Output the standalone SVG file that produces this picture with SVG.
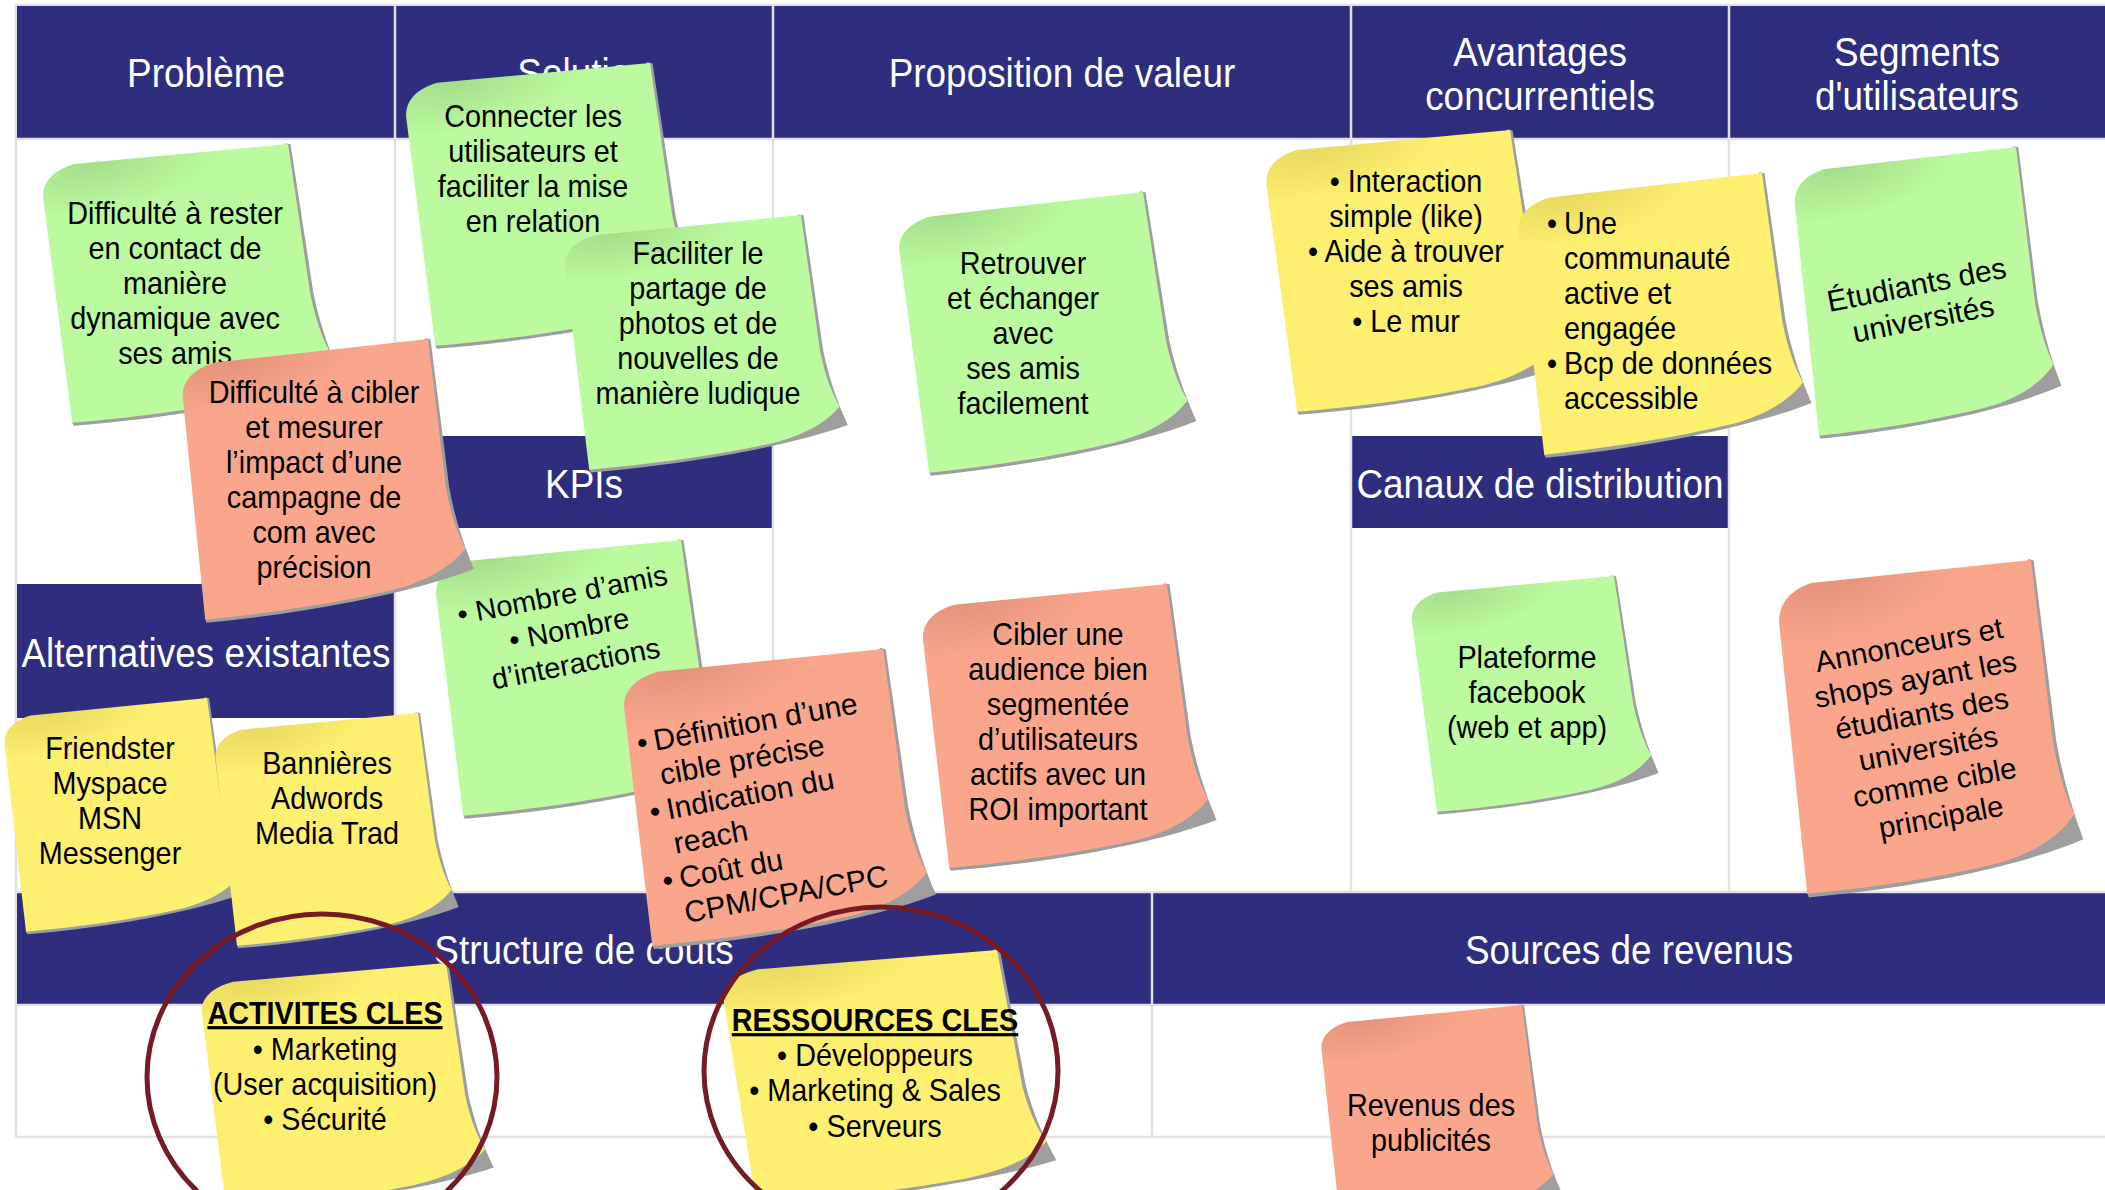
<svg xmlns="http://www.w3.org/2000/svg" width="2105" height="1190" viewBox="0 0 2105 1190">
<defs>
<style>
.band{fill:#2f2d7d}
.ln{stroke:#e1e1e1;stroke-width:2.5;fill:none}
.hd{fill:#ffffff;font-family:"Liberation Sans",Arial,sans-serif;font-size:41px;text-anchor:middle}
.nt{fill:#000000;font-family:"Liberation Sans",Arial,sans-serif;font-size:32px;text-anchor:middle}
.nb{font-weight:bold;text-decoration:underline}
.rt{fill:#000000;font-family:"Liberation Sans",Arial,sans-serif;font-size:30px;text-anchor:middle}
.rl{fill:#000000;font-family:"Liberation Sans",Arial,sans-serif;font-size:30px;text-anchor:start}
.g{fill:url(#gG)}
.s{fill:url(#gS)}
.y{fill:url(#gY)}
.sh{fill:#9e9e9e}
.ring{fill:none;stroke:#761a25;stroke-width:5}
</style>
<radialGradient id="gG" cx="0.2" cy="0" r="0.5" gradientUnits="objectBoundingBox" gradientTransform="translate(0.2,0) scale(1,0.4) translate(-0.2,0)">
<stop offset="0" stop-color="#a3dd8a"/><stop offset="1" stop-color="#bbfa9e"/>
</radialGradient>
<radialGradient id="gS" cx="0.2" cy="0" r="0.5" gradientUnits="objectBoundingBox" gradientTransform="translate(0.2,0) scale(1,0.4) translate(-0.2,0)">
<stop offset="0" stop-color="#e4937b"/><stop offset="1" stop-color="#f9a68c"/>
</radialGradient>
<radialGradient id="gY" cx="0.2" cy="0" r="0.5" gradientUnits="objectBoundingBox" gradientTransform="translate(0.2,0) scale(1,0.4) translate(-0.2,0)">
<stop offset="0" stop-color="#e8d960"/><stop offset="1" stop-color="#fdef6f"/>
</radialGradient>
<path id="shd" d="M99,-0.5 L101,0.3 L102.8,62 C103.8,74 106,85 109.5,97 C96,100 80,101.6 60,102.4 C40,103 20,102.6 1,101.3 L0.5,100 Z"/>
<path id="note" d="M0,8 C0,2 4,-3 14,-4.5 L100,0 L101.5,62 C102.5,74 104.5,82 107,88 C101,94.5 90,99 76,100.3 C52,102 26,101.5 0.5,100 Z"/>
</defs>

<g id="canvas">
<rect x="0" y="0" width="2105" height="1190" fill="#ffffff"/>
<rect x="16" y="5" width="2095" height="1132" fill="#ffffff" class="ln"/>
<rect class="band" x="17" y="6" width="2088" height="132"/>
<rect class="band" x="396" y="436" width="377" height="92"/>
<rect class="band" x="1352" y="436" width="377" height="92"/>
<rect class="band" x="17" y="584" width="378" height="134"/>
<rect class="band" x="17" y="893" width="2088" height="111"/>
<path class="ln" d="M395,6 V893 M773,6 V893 M1351,6 V893 M1729,6 V893 M1152,893 V1137 M17,139 H2105 M17,1005 H2105 M17,892 H2105"/>
<text class="hd" transform="translate(206,0) scale(0.9,1)" x="0" y="87">Problème</text>
<text class="hd" transform="translate(584,0) scale(0.9,1)" x="0" y="87">Solution</text>
<text class="hd" transform="translate(1062,0) scale(0.9,1)" x="0" y="87">Proposition de valeur</text>
<text class="hd" transform="translate(1540,0) scale(0.9,1)"><tspan x="0" y="66">Avantages</tspan><tspan x="0" y="110">concurrentiels</tspan></text>
<text class="hd" transform="translate(1917,0) scale(0.9,1)"><tspan x="0" y="66">Segments</tspan><tspan x="0" y="110">d'utilisateurs</tspan></text>
<text class="hd" transform="translate(584,0) scale(0.9,1)" x="0" y="498">KPIs</text>
<text class="hd" transform="translate(1540,0) scale(0.9,1)" x="0" y="498">Canaux de distribution</text>
<text class="hd" transform="translate(206,0) scale(0.9,1)" x="0" y="667">Alternatives existantes</text>
<text class="hd" transform="translate(584,0) scale(0.9,1)" x="0" y="964">Structure de couts</text>
<text class="hd" transform="translate(1629,0) scale(0.9,1)" x="0" y="964">Sources de revenus</text>
</g>

<g id="notes">
<g id="n2">
<use href="#shd" class="sh" transform="matrix(2.46,-0.36,0.30,2.47,404,99)"/>
<use href="#note" class="g" transform="matrix(2.46,-0.36,0.30,2.47,404,99)"/>
<text class="nt" transform="translate(533,0) scale(0.9,1)"><tspan x="0" y="127">Connecter les</tspan><tspan x="0" y="162">utilisateurs et</tspan><tspan x="0" y="197">faciliter la mise</tspan><tspan x="0" y="232">en relation</tspan></text>
</g>
<g id="n3">
<use href="#shd" class="sh" transform="matrix(2.38,-0.35,0.25,2.2,563,250)"/>
<use href="#note" class="g" transform="matrix(2.38,-0.35,0.25,2.2,563,250)"/>
<text class="nt" transform="translate(698,0) scale(0.9,1)"><tspan x="0" y="264">Faciliter le</tspan><tspan x="0" y="299">partage de</tspan><tspan x="0" y="334">photos et de</tspan><tspan x="0" y="369">nouvelles de</tspan><tspan x="0" y="404">manière ludique</tspan></text>
</g>
<g id="n1">
<use href="#shd" class="sh" transform="matrix(2.47,-0.36,0.30,2.43,41,180)"/>
<use href="#note" class="g" transform="matrix(2.47,-0.36,0.30,2.43,41,180)"/>
<text class="nt" transform="translate(175,0) scale(0.9,1)"><tspan x="0" y="224">Difficulté à rester</tspan><tspan x="0" y="259">en contact de</tspan><tspan x="0" y="294">manière</tspan><tspan x="0" y="329">dynamique avec</tspan><tspan x="0" y="364">ses amis</tspan></text>
</g>
<g id="n9">
<use href="#shd" class="sh" transform="matrix(2.47,-0.37,0.28,2.39,434,577)"/>
<use href="#note" class="g" transform="matrix(2.47,-0.37,0.28,2.39,434,577)"/>
<text class="rt" style="font-size:29px" transform="translate(569,629) rotate(-11)"><tspan x="0" y="-25">• Nombre d’amis</tspan><tspan x="0" y="10">• Nombre</tspan><tspan x="0" y="45">d’interactions</tspan></text>
</g>
<g id="n4">
<use href="#shd" class="sh" transform="matrix(2.47,-0.40,0.23,2.41,181,379)"/>
<use href="#note" class="s" transform="matrix(2.47,-0.40,0.23,2.41,181,379)"/>
<text class="nt" transform="translate(314,0) scale(0.9,1)"><tspan x="0" y="403">Difficulté à cibler</tspan><tspan x="0" y="438">et mesurer</tspan><tspan x="0" y="473">l’impact d’une</tspan><tspan x="0" y="508">campagne de</tspan><tspan x="0" y="543">com avec</tspan><tspan x="0" y="578">précision</tspan></text>
</g>
<g id="n5">
<use href="#shd" class="sh" transform="matrix(2.46,-0.41,0.31,2.40,897,233)"/>
<use href="#note" class="g" transform="matrix(2.46,-0.41,0.31,2.40,897,233)"/>
<text class="nt" transform="translate(1023,0) scale(0.9,1)"><tspan x="0" y="274">Retrouver</tspan><tspan x="0" y="309">et échanger</tspan><tspan x="0" y="344">avec</tspan><tspan x="0" y="379">ses amis</tspan><tspan x="0" y="414">facilement</tspan></text>
</g>
<g id="n6">
<use href="#shd" class="sh" transform="matrix(2.46,-0.36,0.32,2.46,1264,166)"/>
<use href="#note" class="y" transform="matrix(2.46,-0.36,0.32,2.46,1264,166)"/>
<text class="nt" transform="translate(1406,0) scale(0.9,1)"><tspan x="0" y="192">• Interaction</tspan><tspan x="0" y="227">simple (like)</tspan><tspan x="0" y="262">• Aide à trouver</tspan><tspan x="0" y="297">ses amis</tspan><tspan x="0" y="332">• Le mur</tspan></text>
</g>
<g id="n7">
<use href="#shd" class="sh" transform="matrix(2.46,-0.41,0.27,2.41,1516,214)"/>
<use href="#note" class="y" transform="matrix(2.46,-0.41,0.27,2.41,1516,214)"/>
<text class="nt" style="text-anchor:start" transform="translate(1547,0) scale(0.9,1)"><tspan x="0" y="234">•</tspan><tspan x="19" y="234">Une</tspan><tspan x="19" y="269">communauté</tspan><tspan x="19" y="304">active et</tspan><tspan x="19" y="339">engagée</tspan><tspan x="0" y="374">•</tspan><tspan x="19" y="374">Bcp de données</tspan><tspan x="19" y="409">accessible</tspan></text>
</g>
<g id="n8">
<use href="#shd" class="sh" transform="matrix(2.23,-0.39,0.25,2.50,1793,186)"/>
<use href="#note" class="g" transform="matrix(2.23,-0.39,0.25,2.50,1793,186)"/>
<text class="rt" transform="translate(1920,302) rotate(-11)"><tspan x="0" y="-7.5">Étudiants des</tspan><tspan x="0" y="27.5">universités</tspan></text>
</g>
<g id="n10">
<use href="#shd" class="sh" transform="matrix(2.61,-0.40,0.29,2.57,622,689)"/>
<use href="#note" class="s" transform="matrix(2.61,-0.40,0.29,2.57,622,689)"/>
<text class="rl" transform="translate(642,743) rotate(-10.5)"><tspan x="-5" y="10">•</tspan><tspan x="12" y="10">Définition d’une</tspan><tspan x="12" y="45">cible précise</tspan><tspan x="-5" y="80">•</tspan><tspan x="12" y="80">Indication du</tspan><tspan x="13" y="115">reach</tspan><tspan x="-5" y="150">•</tspan><tspan x="12" y="150">Coût du</tspan><tspan x="11" y="185">CPM/CPA/CPC</tspan></text>
</g>
<g id="n11">
<use href="#shd" class="sh" transform="matrix(2.46,-0.37,0.27,2.47,921,621)"/>
<use href="#note" class="s" transform="matrix(2.46,-0.37,0.27,2.47,921,621)"/>
<text class="nt" transform="translate(1058,0) scale(0.9,1)"><tspan x="0" y="645">Cibler une</tspan><tspan x="0" y="680">audience bien</tspan><tspan x="0" y="715">segmentée</tspan><tspan x="0" y="750">d’utilisateurs</tspan><tspan x="0" y="785">actifs avec un</tspan><tspan x="0" y="820">ROI important</tspan></text>
</g>
<g id="n12">
<use href="#shd" class="sh" transform="matrix(2.04,-0.30,0.26,2.06,1410,606)"/>
<use href="#note" class="g" transform="matrix(2.04,-0.30,0.26,2.06,1410,606)"/>
<text class="nt" transform="translate(1527,0) scale(0.9,1)"><tspan x="0" y="668">Plateforme</tspan><tspan x="0" y="703">facebook</tspan><tspan x="0" y="738">(web et app)</tspan></text>
</g>
<g id="n13">
<use href="#shd" class="sh" transform="matrix(2.54,-0.42,0.29,2.92,1777,602)"/>
<use href="#note" class="s" transform="matrix(2.54,-0.42,0.29,2.92,1777,602)"/>
<text class="rt" style="font-size:29.5px" transform="translate(1925,731) rotate(-10.5)"><tspan x="0" y="-77.5">Annonceurs et</tspan><tspan x="0" y="-42.5">shops ayant les</tspan><tspan x="0" y="-7.5">étudiants des</tspan><tspan x="0" y="27.5">universités</tspan><tspan x="0" y="62.5">comme cible</tspan><tspan x="0" y="97.5">principale</tspan></text>
</g>
<g id="n14">
<use href="#shd" class="sh" transform="matrix(2.04,-0.31,0.22,2.03,3,729)"/>
<use href="#note" class="y" transform="matrix(2.04,-0.31,0.22,2.03,3,729)"/>
<text class="nt" transform="translate(110,0) scale(0.9,1)"><tspan x="0" y="759">Friendster</tspan><tspan x="0" y="794">Myspace</tspan><tspan x="0" y="829">MSN</tspan><tspan x="0" y="864">Messenger</tspan></text>
</g>
<g id="n15">
<use href="#shd" class="sh" transform="matrix(2.04,-0.30,0.22,2.03,214,743)"/>
<use href="#note" class="y" transform="matrix(2.04,-0.30,0.22,2.03,214,743)"/>
<text class="nt" transform="translate(327,0) scale(0.9,1)"><tspan x="0" y="774">Bannières</tspan><tspan x="0" y="809">Adwords</tspan><tspan x="0" y="844">Media Trad</tspan></text>
</g>
<g id="n16">
<use href="#shd" class="sh" transform="matrix(2.46,-0.33,0.25,2.14,200,996)"/>
<use href="#note" class="y" transform="matrix(2.46,-0.33,0.25,2.14,200,996)"/>
<text class="nt" transform="translate(325,0) scale(0.9,1)"><tspan class="nb" x="0" y="1024">ACTIVITES CLES</tspan><tspan x="0" y="1060">• Marketing</tspan><tspan x="0" y="1095">(User acquisition)</tspan><tspan x="0" y="1130">• Sécurité</tspan></text>
</g>
<g id="n17">
<use href="#shd" class="sh" transform="matrix(2.76,-0.34,0.34,2.20,721,984)"/>
<use href="#note" class="y" transform="matrix(2.76,-0.34,0.34,2.20,721,984)"/>
<text class="nt" transform="translate(875,0) scale(0.9,1)"><tspan class="nb" x="0" y="1031">RESSOURCES CLES</tspan><tspan x="0" y="1066">• Développeurs</tspan><tspan x="0" y="1101">• Marketing &amp; Sales</tspan><tspan x="0" y="1137">• Serveurs</tspan></text>
</g>
<g id="n18">
<use href="#shd" class="sh" transform="matrix(2.02,-0.30,0.20,1.94,1320,1035)"/>
<use href="#note" class="s" transform="matrix(2.02,-0.30,0.20,1.94,1320,1035)"/>
<text class="nt" transform="translate(1431,0) scale(0.9,1)"><tspan x="0" y="1116">Revenus des</tspan><tspan x="0" y="1151">publicités</tspan></text>
</g>
</g>

<g id="connectors">
<ellipse class="ring" cx="322" cy="1077" rx="175" ry="163"/>
<ellipse class="ring" cx="881" cy="1071" rx="177" ry="164"/>
</g>
</svg>
